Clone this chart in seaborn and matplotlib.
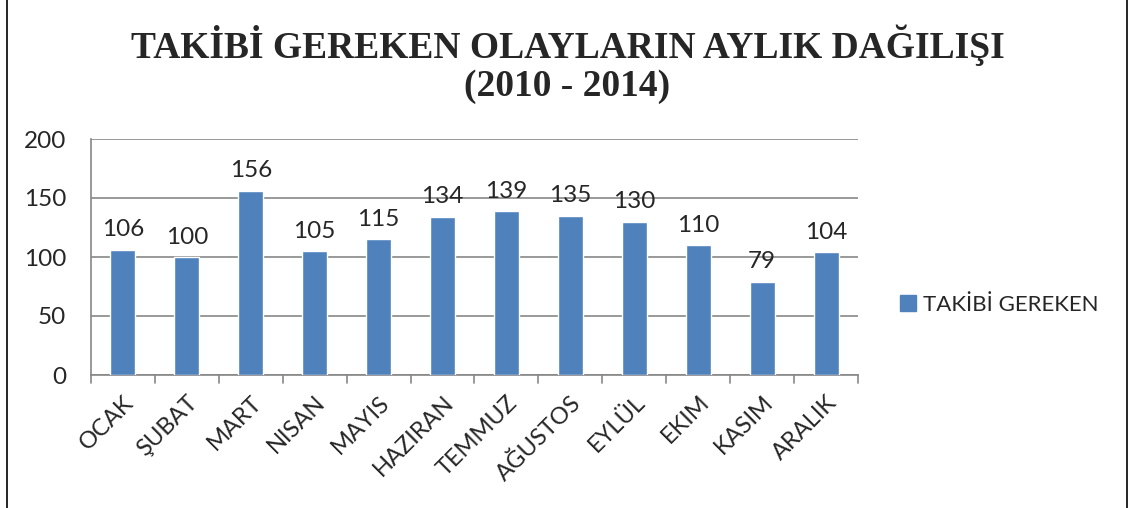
import pandas as pd
import matplotlib.pyplot as plt
import seaborn as sns
from matplotlib.patches import Rectangle, Patch

months = ['OCAK', 'ŞUBAT', 'MART', 'NISAN', 'MAYIS', 'HAZIRAN',
          'TEMMUZ', 'AĞUSTOS', 'EYLÜL', 'EKIM', 'KASIM', 'ARALIK']
counts = [106, 100, 156, 105, 115, 134, 139, 135, 130, 110, 79, 104]
series_name = 'TAKİBİ GEREKEN'
title = 'TAKİBİ GEREKEN OLAYLARIN AYLIK DAĞILIŞI\n(2010 - 2014)'

df = pd.DataFrame({'Ay': months, 'Olay': counts})

sns.set_style('white')
plt.rcParams['font.family'] = ['Lato', 'DejaVu Sans']

fig = plt.figure(figsize=(11.35, 5.08), dpi=100)
ax = fig.add_axes([91 / 1135, 1 - 375 / 508, (858 - 91) / 1135, (375 - 139) / 508])

sns.barplot(data=df, x='Ay', y='Olay', color='#4F81BD', saturation=1,
            width=0.39, ax=ax, zorder=3)

ax.set_ylim(0, 200)
ax.set_xlim(-0.5, len(months) - 0.5)
ax.set_yticks([0, 50, 100, 150, 200])
ax.yaxis.grid(True, color='#878787', linewidth=1.2, zorder=0)
ax.set_axisbelow(True)

for s in ['top', 'right']:
    ax.spines[s].set_visible(False)
for s in ['left', 'bottom']:
    ax.spines[s].set_color('#878787')
    ax.spines[s].set_linewidth(1.2)

ax.set_xlabel('')
ax.set_ylabel('')
ax.tick_params(axis='y', length=6, width=1.2, color='#878787', direction='out',
               labelsize=17.5, pad=12)
ax.set_xticks(range(len(months)))
ax.set_xticklabels(months, rotation=45, ha='right', rotation_mode='anchor', fontsize=17)
ax.tick_params(axis='x', length=0, pad=12)

# tick marks between categories
for i in range(len(months) + 1):
    ax.plot([i - 0.5, i - 0.5], [0, -6.5], color='#878787', lw=1.2, clip_on=False)

for i, v in enumerate(counts):
    ax.text(i, v + 8, str(v), ha='center', va='bottom', fontsize=17.5)

fig.text(0.5, 1 - 64 / 508, title, ha='center', va='center', fontsize=27,
         fontweight='bold', family='Liberation Serif', linespacing=1.1)

fig.legend(handles=[Patch(color='#4F81BD', label=series_name)],
           loc='center left', bbox_to_anchor=(880 / 1135, 1 - 305 / 508),
           frameon=False, fontsize=16, handlelength=0.7, handleheight=0.7,
           handletextpad=0.35)

fig.patches.append(Rectangle((7 / 1135, -0.05), (1127 - 7) / 1135, 1.2,
                             transform=fig.transFigure, fill=False,
                             edgecolor='black', linewidth=1.2))

fig.savefig('out.png', dpi=100)
